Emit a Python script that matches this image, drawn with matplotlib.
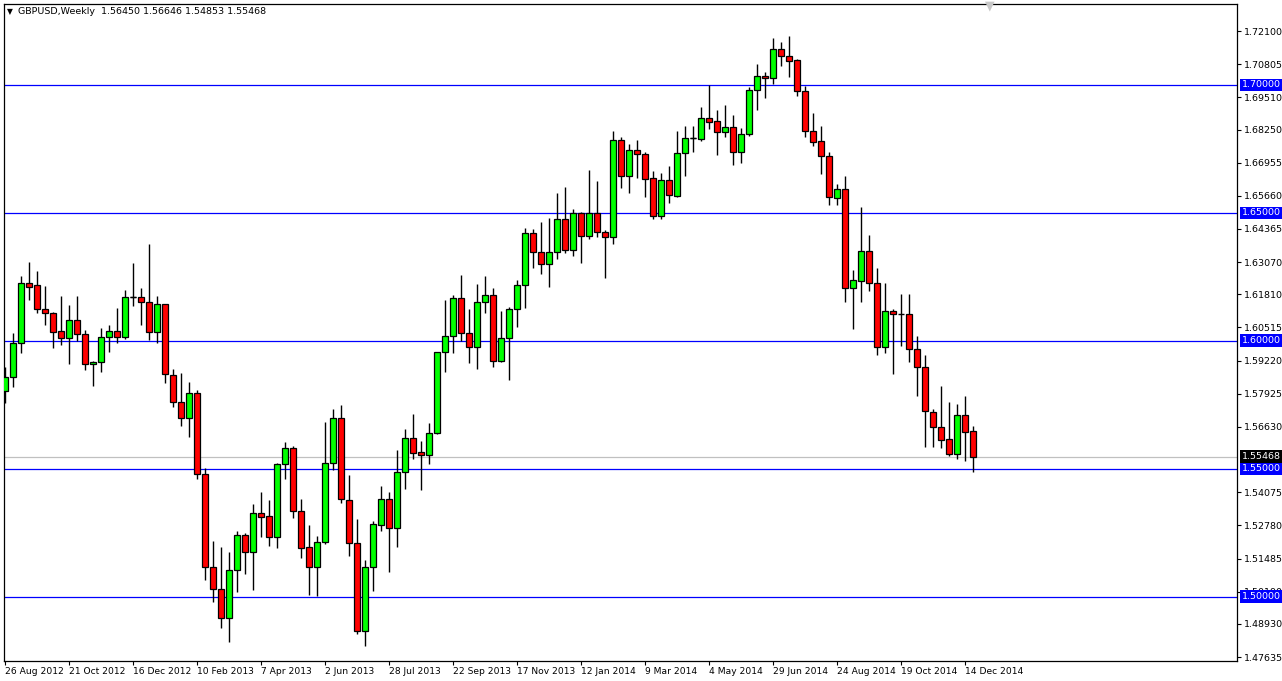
import numpy as np
import matplotlib
matplotlib.use("Agg")
import matplotlib.pyplot as plt
from matplotlib.transforms import blended_transform_factory

# weekly GBPUSD candles, 26 Aug 2012 .. 21 Dec 2014
opens = [
    1.5803, 1.5859, 1.5990, 1.6224, 1.6217, 1.6122, 1.6107, 1.6038, 1.6009, 1.6081,
    1.6025, 1.5908, 1.5915, 1.6015, 1.6036, 1.6015, 1.6169, 1.6169, 1.6150, 1.6033,
    1.6142, 1.5866, 1.5759, 1.5696, 1.5794, 1.5478, 1.5117, 1.5028, 1.4915, 1.5104,
    1.5240, 1.5175, 1.5325, 1.5315, 1.5231, 1.5517, 1.5579, 1.5335, 1.5192, 1.5117,
    1.5212, 1.5521, 1.5696, 1.5377, 1.5208, 1.4866, 1.5114, 1.5280, 1.5380, 1.5267,
    1.5485, 1.5618, 1.5564, 1.5552, 1.5638, 1.5954, 1.6018, 1.6165, 1.6029, 1.5976,
    1.6152, 1.6178, 1.5920, 1.6009, 1.6122, 1.6217, 1.6419, 1.6345, 1.6298, 1.6345,
    1.6475, 1.6354, 1.6498, 1.6410, 1.6498, 1.6423, 1.6406, 1.6784, 1.6643, 1.6745,
    1.6729, 1.6634, 1.6487, 1.6628, 1.6566, 1.6732, 1.6791, 1.6787, 1.6869, 1.6858,
    1.6817, 1.6834, 1.6738, 1.6806, 1.6979, 1.7034, 1.7025, 1.7139, 1.7112, 1.7097,
    1.6976, 1.6821, 1.6780, 1.6723, 1.6556, 1.6591, 1.6204, 1.6234, 1.6350, 1.6224,
    1.5974, 1.6116, 1.6103, 1.6103, 1.5966, 1.5896, 1.5720, 1.5661, 1.5614, 1.5556,
    1.5709, 1.56450,
]
highs = [
    1.5898, 1.6029, 1.6253, 1.6306, 1.6272, 1.6214, 1.6113, 1.6174, 1.6139, 1.6174,
    1.6042, 1.5920, 1.6048, 1.6061, 1.6126, 1.6198, 1.6305, 1.6204, 1.6378, 1.6174,
    1.6145, 1.5889, 1.5875, 1.5839, 1.5807, 1.5501, 1.5217, 1.5192, 1.5173, 1.5256,
    1.5249, 1.5360, 1.5407, 1.5377, 1.5523, 1.5605, 1.5588, 1.5380, 1.5280, 1.5236,
    1.5683, 1.5732, 1.5748, 1.5475, 1.5303, 1.5143, 1.5295, 1.5432, 1.5410, 1.5573,
    1.5654, 1.5713, 1.5608, 1.5677, 1.5956, 1.6159, 1.6178, 1.6257, 1.6122, 1.6221,
    1.6253, 1.6204, 1.6116, 1.6133, 1.6237, 1.6441, 1.6436, 1.6462, 1.6480, 1.6576,
    1.6599, 1.6514, 1.6504, 1.6667, 1.6624, 1.6432, 1.6819, 1.6795, 1.6768, 1.6784,
    1.6736, 1.6663, 1.6654, 1.6682, 1.6819, 1.6839, 1.6839, 1.6914, 1.6999, 1.6901,
    1.6921, 1.6882, 1.6832, 1.6992, 1.7080, 1.7051, 1.7181, 1.7166, 1.7192, 1.7099,
    1.6995, 1.6888, 1.6839, 1.6736, 1.6612, 1.6643, 1.6276, 1.6523, 1.6413, 1.6283,
    1.6226, 1.6124, 1.6181, 1.6181, 1.6018, 1.5944, 1.5733, 1.5824, 1.5761, 1.5752,
    1.5784, 1.56646,
]
lows = [
    1.5756, 1.5820, 1.5953, 1.6159, 1.6107, 1.6061, 1.5972, 1.5983, 1.5909, 1.5999,
    1.5885, 1.5824, 1.5879, 1.5957, 1.5992, 1.6006, 1.6135, 1.6061, 1.6003, 1.5990,
    1.5833, 1.5742, 1.5668, 1.5625, 1.5458, 1.5065, 1.4980, 1.4878, 1.4823, 1.5019,
    1.5087, 1.5026, 1.5234, 1.5197, 1.5191, 1.5460, 1.5308, 1.5152, 1.5006, 1.5002,
    1.5205, 1.5494, 1.5364, 1.5160, 1.4852, 1.4808, 1.5023, 1.5257, 1.5097, 1.5195,
    1.5419, 1.5536, 1.5416, 1.5517, 1.5634, 1.5879, 1.5951, 1.5999, 1.5911, 1.5888,
    1.6109, 1.5898, 1.5918, 1.5846, 1.6054, 1.6129, 1.6283, 1.6259, 1.6211, 1.6318,
    1.6344, 1.6332, 1.6305, 1.6396, 1.6404, 1.6246, 1.6378, 1.6598, 1.6578, 1.6637,
    1.6562, 1.6474, 1.6474, 1.6539, 1.6562, 1.6645, 1.6738, 1.6780, 1.6827, 1.6725,
    1.6795, 1.6686, 1.6695, 1.6800, 1.6901, 1.6949, 1.7003, 1.7074, 1.7031, 1.6956,
    1.6796, 1.6761, 1.6651, 1.6530, 1.6530, 1.6152, 1.6046, 1.6152, 1.6195, 1.5944,
    1.5953, 1.5868, 1.5980, 1.5918, 1.5785, 1.5586, 1.5583, 1.5579, 1.5550, 1.5537,
    1.5531, 1.54853,
]
closes = [
    1.5859, 1.5990, 1.6224, 1.6211, 1.6122, 1.6107, 1.6035, 1.6009, 1.6081, 1.6025,
    1.5908, 1.5915, 1.6015, 1.6036, 1.6015, 1.6169, 1.6170, 1.6150, 1.6033, 1.6142,
    1.5868, 1.5759, 1.5696, 1.5794, 1.5478, 1.5117, 1.5028, 1.4915, 1.5104, 1.5240,
    1.5175, 1.5325, 1.5312, 1.5231, 1.5517, 1.5579, 1.5335, 1.5191, 1.5117, 1.5212,
    1.5521, 1.5696, 1.5380, 1.5208, 1.4866, 1.5114, 1.5282, 1.5380, 1.5267, 1.5485,
    1.5618, 1.5562, 1.5552, 1.5638, 1.5954, 1.6018, 1.6165, 1.6029, 1.5976, 1.6152,
    1.6178, 1.5920, 1.6009, 1.6122, 1.6217, 1.6419, 1.6345, 1.6298, 1.6345, 1.6475,
    1.6354, 1.6498, 1.6410, 1.6498, 1.6423, 1.6406, 1.6784, 1.6643, 1.6745, 1.6728,
    1.6630, 1.6487, 1.6628, 1.6569, 1.6732, 1.6791, 1.6792, 1.6869, 1.6856, 1.6817,
    1.6834, 1.6738, 1.6806, 1.6979, 1.7034, 1.7025, 1.7139, 1.7112, 1.7094, 1.6976,
    1.6821, 1.6777, 1.6723, 1.6560, 1.6591, 1.6204, 1.6237, 1.6350, 1.6224, 1.5974,
    1.6116, 1.6103, 1.6103, 1.5966, 1.5896, 1.5725, 1.5661, 1.5612, 1.5556, 1.5709,
    1.5642, 1.55468,
]

date_labels = ["26 Aug 2012", "21 Oct 2012", "16 Dec 2012", "10 Feb 2013", "7 Apr 2013",
               "2 Jun 2013", "28 Jul 2013", "22 Sep 2013", "17 Nov 2013", "12 Jan 2014",
               "9 Mar 2014", "4 May 2014", "29 Jun 2014", "24 Aug 2014", "19 Oct 2014",
               "14 Dec 2014"]
price_ticks = [1.72100, 1.70805, 1.69510, 1.68250, 1.66955, 1.65660, 1.64365, 1.63070,
               1.61810, 1.60515, 1.59220, 1.57925, 1.56630, 1.54075, 1.52780, 1.51485,
               1.50190, 1.48930, 1.47635]
levels = [1.70, 1.65, 1.60, 1.55, 1.50]
last_price = 1.55468
title = "GBPUSD,Weekly  1.56450 1.56646 1.54853 1.55468"

W, H = 1282, 681
fig = plt.figure(figsize=(W / 100, H / 100), dpi=100)
ax = fig.add_axes([4 / W, 1 - 660.5 / H, 1233 / W, 656.5 / H])

o = np.array(opens); h = np.array(highs); l = np.array(lows); c = np.array(closes)
x = np.arange(len(o))

# horizontal levels + last price line
for lv in levels:
    ax.axhline(lv, color="#0000ff", lw=0.9, zorder=1)
ax.axhline(last_price, color="#c0c0c0", lw=0.9, zorder=1)

# wicks
ax.vlines(x, l, h, color="black", lw=1.0, zorder=2)
# bodies
up = c > o
down = c < o
doji = ~(up | down) | (np.abs(c - o) < 0.00015)
bw = 0.64
ax.bar(x[up], (c - o)[up], bottom=o[up], width=bw, color="#00ff00",
       edgecolor="black", linewidth=0.9, zorder=3)
ax.bar(x[down], (o - c)[down], bottom=c[down], width=bw, color="#ff0000",
       edgecolor="black", linewidth=0.9, zorder=3)
ax.hlines(o[doji], x[doji] - bw / 2, x[doji] + bw / 2, color="black", lw=1.0, zorder=4)

ax.set_xlim(-0.125, 154)
ax.set_ylim(1.47500, 1.73156)

# axes styling
for s in ax.spines.values():
    s.set_color("black")
    s.set_linewidth(0.9)
ax.yaxis.tick_right()
ax.set_yticks(price_ticks)
ax.set_yticklabels([f"{t:.5f}" for t in price_ticks])
ax.set_xticks(np.arange(len(date_labels)) * 8)
ax.set_xticklabels(date_labels, ha="left")
ax.tick_params(axis="y", direction="out", length=3, width=0.8, pad=2, labelsize=6.8)
ax.tick_params(axis="x", direction="out", length=3, width=0.8, pad=1.5, labelsize=6.6)

# price boxes on the right scale
tr = blended_transform_factory(ax.transAxes, ax.transData)
for lv in levels:
    ax.text(1.0 + 5 / 1233, lv, f"{lv:.5f}", transform=tr, ha="left", va="center",
            fontsize=6.8, color="white", zorder=5, clip_on=False,
            bbox=dict(boxstyle="square,pad=0.18", fc="#0000ff", ec="none"))
ax.text(1.0 + 5 / 1233, last_price, f"{last_price:.5f}", transform=tr, ha="left",
        va="center", fontsize=6.8, color="white", zorder=5, clip_on=False,
        bbox=dict(boxstyle="square,pad=0.18", fc="black", ec="none"))

# header
fig.text(7 / W, 1 - 12 / H, "\u25bc", fontsize=5.5, va="center", ha="left")
fig.text(18 / W, 1 - 12 / H, title, fontsize=6.8, va="center", ha="left")
fig.text(990 / W, 1 - 6 / H, "\u25bc", fontsize=9, color="#c8c8c8", va="center", ha="center")

fig.savefig("out.png", dpi=100)
plt.close(fig)
